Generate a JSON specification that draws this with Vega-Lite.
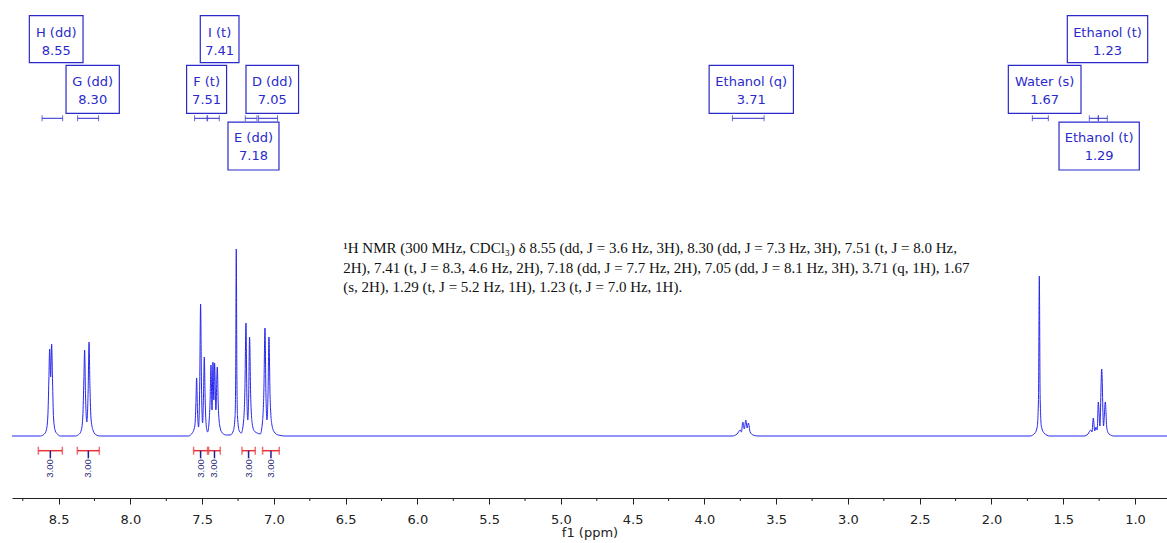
{
  "$schema": "https://vega.github.io/schema/vega-lite/v6.json",
  "width": 1155,
  "height": 498,
  "autosize": {"type": "none"},
  "padding": {"left": 12, "top": 0, "right": 0, "bottom": 45},
  "background": "white",
  "config": {"view": {"stroke": null}},
  "datasets": {
    "spectrum": [
      {"ppm": 8.825, "int": 0}, {"ppm": 8.6275, "int": 0}, {"ppm": 8.5996, "int": 2}, {"ppm": 8.5857, "int": 6},
      {"ppm": 8.5752, "int": 20}, {"ppm": 8.5683, "int": 55}, {"ppm": 8.5627, "int": 87}, {"ppm": 8.5557, "int": 59},
      {"ppm": 8.5488, "int": 92}, {"ppm": 8.5425, "int": 55}, {"ppm": 8.5355, "int": 18}, {"ppm": 8.523, "int": 5},
      {"ppm": 8.5091, "int": 2}, {"ppm": 8.4882, "int": 0},
      {"ppm": 8.3837, "int": 0}, {"ppm": 8.3558, "int": 2}, {"ppm": 8.3419, "int": 6}, {"ppm": 8.3314, "int": 20},
      {"ppm": 8.3245, "int": 55}, {"ppm": 8.3189, "int": 86}, {"ppm": 8.3126, "int": 40}, {"ppm": 8.3036, "int": 14},
      {"ppm": 8.2945, "int": 45}, {"ppm": 8.2882, "int": 94}, {"ppm": 8.282, "int": 50}, {"ppm": 8.2736, "int": 16},
      {"ppm": 8.2583, "int": 5}, {"ppm": 8.2374, "int": 1}, {"ppm": 8.2095, "int": 0},
      {"ppm": 7.5966, "int": 0}, {"ppm": 7.5687, "int": 3}, {"ppm": 7.5513, "int": 10}, {"ppm": 7.5436, "int": 32},
      {"ppm": 7.5387, "int": 58}, {"ppm": 7.5325, "int": 25}, {"ppm": 7.5248, "int": 9}, {"ppm": 7.5171, "int": 50},
      {"ppm": 7.5109, "int": 132}, {"ppm": 7.5046, "int": 50}, {"ppm": 7.4969, "int": 13}, {"ppm": 7.4907, "int": 40},
      {"ppm": 7.4851, "int": 79}, {"ppm": 7.4788, "int": 35}, {"ppm": 7.4712, "int": 10}, {"ppm": 7.4621, "int": 4},
      {"ppm": 7.4531, "int": 12}, {"ppm": 7.4447, "int": 35}, {"ppm": 7.4384, "int": 71}, {"ppm": 7.4315, "int": 26},
      {"ppm": 7.4245, "int": 74}, {"ppm": 7.4189, "int": 36}, {"ppm": 7.4134, "int": 73}, {"ppm": 7.4043, "int": 26},
      {"ppm": 7.3946, "int": 69}, {"ppm": 7.3876, "int": 30}, {"ppm": 7.3771, "int": 10}, {"ppm": 7.3597, "int": 3},
      {"ppm": 7.3319, "int": 1}, {"ppm": 7.304, "int": 1}, {"ppm": 7.2831, "int": 5}, {"ppm": 7.2706, "int": 20},
      {"ppm": 7.2664, "int": 60}, {"ppm": 7.2622, "int": 187}, {"ppm": 7.258, "int": 60}, {"ppm": 7.2538, "int": 20},
      {"ppm": 7.2413, "int": 5}, {"ppm": 7.2274, "int": 3}, {"ppm": 7.2135, "int": 12}, {"ppm": 7.2023, "int": 45},
      {"ppm": 7.1947, "int": 113}, {"ppm": 7.1884, "int": 40}, {"ppm": 7.1821, "int": 16}, {"ppm": 7.1758, "int": 40},
      {"ppm": 7.1696, "int": 99}, {"ppm": 7.1619, "int": 40}, {"ppm": 7.1508, "int": 12}, {"ppm": 7.1368, "int": 5},
      {"ppm": 7.1159, "int": 3}, {"ppm": 7.095, "int": 2}, {"ppm": 7.0811, "int": 12}, {"ppm": 7.07, "int": 45},
      {"ppm": 7.0623, "int": 108}, {"ppm": 7.0553, "int": 40}, {"ppm": 7.0484, "int": 16}, {"ppm": 7.0414, "int": 40},
      {"ppm": 7.0344, "int": 99}, {"ppm": 7.0268, "int": 40}, {"ppm": 7.0149, "int": 12}, {"ppm": 6.9975, "int": 4},
      {"ppm": 6.9697, "int": 1}, {"ppm": 6.9209, "int": 0},
      {"ppm": 3.8072, "int": 0}, {"ppm": 3.7724, "int": 2}, {"ppm": 3.7515, "int": 6}, {"ppm": 3.7424, "int": 4},
      {"ppm": 3.7327, "int": 14}, {"ppm": 3.7222, "int": 7}, {"ppm": 3.7118, "int": 16}, {"ppm": 3.7027, "int": 8},
      {"ppm": 3.6937, "int": 13}, {"ppm": 3.6818, "int": 4}, {"ppm": 3.6609, "int": 1}, {"ppm": 3.6261, "int": 0},
      {"ppm": 1.7314, "int": 0}, {"ppm": 1.6966, "int": 3}, {"ppm": 1.6806, "int": 10}, {"ppm": 1.6722, "int": 40},
      {"ppm": 1.6666, "int": 160}, {"ppm": 1.6611, "int": 40}, {"ppm": 1.6527, "int": 10}, {"ppm": 1.6339, "int": 3},
      {"ppm": 1.5921, "int": 0},
      {"ppm": 1.3553, "int": 0}, {"ppm": 1.3274, "int": 2}, {"ppm": 1.3086, "int": 6}, {"ppm": 1.2996, "int": 4},
      {"ppm": 1.2905, "int": 18}, {"ppm": 1.2808, "int": 5}, {"ppm": 1.2717, "int": 9}, {"ppm": 1.2633, "int": 6},
      {"ppm": 1.2557, "int": 34}, {"ppm": 1.2445, "int": 10}, {"ppm": 1.232, "int": 67}, {"ppm": 1.2195, "int": 10},
      {"ppm": 1.2069, "int": 34}, {"ppm": 1.1965, "int": 8}, {"ppm": 1.1811, "int": 2}, {"ppm": 1.1463, "int": 0},
      {"ppm": 0.777, "int": 0}
    ],
    "minorTicks": [
      {"ppm": 8.75}, {"ppm": 8.25}, {"ppm": 7.75}, {"ppm": 7.25}, {"ppm": 6.75}, {"ppm": 6.25}, {"ppm": 5.75},
      {"ppm": 5.25}, {"ppm": 4.75}, {"ppm": 4.25}, {"ppm": 3.75}, {"ppm": 3.25}, {"ppm": 2.75}, {"ppm": 2.25},
      {"ppm": 1.75}, {"ppm": 1.25}
    ],
    "boxes": [
      {"label": ["H (dd)", "8.55"], "lo": 8.7041, "hi": 8.33, "mid": 8.517, "top": 420.3, "bot": 373.3, "ymid": 403.1},
      {"label": ["I (t)", "7.41"], "lo": 7.513, "hi": 7.2434, "mid": 7.3782, "top": 420.3, "bot": 373.3, "ymid": 403.1},
      {"label": ["Ethanol (t)", "1.23"], "lo": 1.4716, "hi": 0.9116, "mid": 1.1916, "top": 420.3, "bot": 373.3, "ymid": 403.1},
      {"label": ["G (dd)", "8.30"], "lo": 8.4485, "hi": 8.0772, "mid": 8.2628, "top": 370.7, "bot": 322.7, "ymid": 353.8},
      {"label": ["F (t)", "7.51"], "lo": 7.6084, "hi": 7.3298, "mid": 7.4691, "top": 370.7, "bot": 322.7, "ymid": 353.8},
      {"label": ["D (dd)", "7.05"], "lo": 7.1946, "hi": 6.8282, "mid": 7.0114, "top": 370.7, "bot": 322.7, "ymid": 353.8},
      {"label": ["Ethanol (q)", "3.71"], "lo": 3.9674, "hi": 3.3802, "mid": 3.6738, "top": 370.7, "bot": 322.7, "ymid": 353.8},
      {"label": ["Water (s)", "1.67"], "lo": 1.8826, "hi": 1.3762, "mid": 1.6294, "top": 370.7, "bot": 322.7, "ymid": 353.8},
      {"label": ["E (dd)", "7.18"], "lo": 7.32, "hi": 6.9648, "mid": 7.1424, "top": 313.8, "bot": 266.0, "ymid": 298.1},
      {"label": ["Ethanol (t)", "1.29"], "lo": 1.5294, "hi": 0.9701, "mid": 1.2498, "top": 313.8, "bot": 266.0, "ymid": 298.1}
    ],
    "brackets": [
      {"lo": 8.6156, "hi": 8.4721}, {"lo": 8.3677, "hi": 8.2214}, {"lo": 7.5527, "hi": 7.4663},
      {"lo": 7.4621, "hi": 7.3806}, {"lo": 7.1995, "hi": 7.118}, {"lo": 7.1069, "hi": 6.9745},
      {"lo": 3.8051, "hi": 3.5843}, {"lo": 1.7154, "hi": 1.604}, {"lo": 1.3184, "hi": 1.2557},
      {"lo": 1.2557, "hi": 1.193}
    ],
    "integrals": [
      {"lo": 8.6414, "hi": 8.4742, "mid": 8.5578, "value": "3.00"},
      {"lo": 8.3697, "hi": 8.2165, "mid": 8.2931, "value": "3.00"},
      {"lo": 7.5596, "hi": 7.4621, "mid": 7.5109, "value": "3.00"},
      {"lo": 7.4552, "hi": 7.3737, "mid": 7.4141, "value": "3.00"},
      {"lo": 7.2225, "hi": 7.1299, "mid": 7.1766, "value": "3.00"},
      {"lo": 7.079, "hi": 6.9627, "mid": 7.0205, "value": "3.00"}
    ],
    "note": [
      {"x": 6.517, "y": 188, "text": [
        "¹H NMR (300 MHz, CDCl₃) δ 8.55 (dd, J = 3.6 Hz, 3H), 8.30 (dd, J = 7.3 Hz, 3H), 7.51 (t, J = 8.0 Hz,",
        "2H), 7.41 (t, J = 8.3, 4.6 Hz, 2H), 7.18 (dd, J = 7.7 Hz, 2H), 7.05 (dd, J = 8.1 Hz, 3H), 3.71 (q, 1H), 1.67",
        "(s, 2H), 1.29 (t, J = 5.2 Hz, 1H), 1.23 (t, J = 7.0 Hz, 1H)."
      ]}
    ]
  },
  "layer": [
    {
      "data": {"name": "spectrum"},
      "mark": {"type": "line", "color": "#2626ee", "strokeWidth": 1, "interpolate": "monotone"},
      "encoding": {
        "x": {
          "field": "ppm", "type": "quantitative",
          "scale": {"domain": [0.777, 8.825], "reverse": true, "nice": false, "zero": false},
          "axis": {
            "title": "f1 (ppm)",
            "values": [8.5, 8.0, 7.5, 7.0, 6.5, 6.0, 5.5, 5.0, 4.5, 4.0, 3.5, 3.0, 2.5, 2.0, 1.5, 1.0],
            "format": ".1f",
            "tickSize": 6,
            "grid": false,
            "domainColor": "#222222",
            "tickColor": "#222222",
            "labelColor": "#222222",
            "labelFont": "DejaVu Sans",
            "labelFontSize": 13,
            "labelPadding": 9,
            "labelOverlap": false,
            "labelBound": false,
            "titleFont": "DejaVu Sans",
            "titleFontSize": 13,
            "titleFontWeight": "normal",
            "titleColor": "#222222",
            "titlePadding": 0
          }
        },
        "y": {
          "field": "int", "type": "quantitative",
          "scale": {"domain": [-62, 436], "nice": false, "zero": false},
          "axis": null
        }
      }
    },
    {
      "data": {"name": "minorTicks"},
      "mark": {"type": "rule", "color": "#222222", "strokeWidth": 1},
      "encoding": {
        "x": {"field": "ppm", "type": "quantitative"},
        "y": {"datum": -62, "type": "quantitative"},
        "y2": {"datum": -65}
      }
    },
    {
      "data": {"name": "boxes"},
      "mark": {"type": "rect", "fill": "white", "stroke": "#2a2acb", "strokeWidth": 1.2},
      "encoding": {
        "x": {"field": "lo", "type": "quantitative"},
        "x2": {"field": "hi"},
        "y": {"field": "top", "type": "quantitative"},
        "y2": {"field": "bot"}
      }
    },
    {
      "data": {"name": "boxes"},
      "mark": {"type": "text", "color": "#2a2acb", "font": "DejaVu Sans", "fontSize": 13, "align": "center", "baseline": "middle", "lineHeight": 18},
      "encoding": {
        "x": {"field": "mid", "type": "quantitative"},
        "y": {"field": "ymid", "type": "quantitative"},
        "text": {"field": "label"}
      }
    },
    {
      "data": {"name": "brackets"},
      "mark": {"type": "rule", "color": "#2a2acb", "strokeWidth": 1},
      "encoding": {
        "x": {"field": "lo", "type": "quantitative"},
        "x2": {"field": "hi"},
        "y": {"datum": 317.7, "type": "quantitative"}
      }
    },
    {
      "data": {"name": "brackets"},
      "mark": {"type": "tick", "color": "#2a2acb", "orient": "vertical", "size": 6, "thickness": 1},
      "encoding": {
        "x": {"field": "lo", "type": "quantitative"},
        "y": {"datum": 317.7, "type": "quantitative"}
      }
    },
    {
      "data": {"name": "brackets"},
      "mark": {"type": "tick", "color": "#2a2acb", "orient": "vertical", "size": 6, "thickness": 1},
      "encoding": {
        "x": {"field": "hi", "type": "quantitative"},
        "y": {"datum": 317.7, "type": "quantitative"}
      }
    },
    {
      "data": {"name": "integrals"},
      "mark": {"type": "rule", "color": "#e8333a", "strokeWidth": 1.5},
      "encoding": {
        "x": {"field": "lo", "type": "quantitative"},
        "x2": {"field": "hi"},
        "y": {"datum": -14.7, "type": "quantitative"}
      }
    },
    {
      "data": {"name": "integrals"},
      "mark": {"type": "tick", "color": "#e8333a", "orient": "vertical", "size": 8, "thickness": 1.5},
      "encoding": {
        "x": {"field": "lo", "type": "quantitative"},
        "y": {"datum": -14.7, "type": "quantitative"}
      }
    },
    {
      "data": {"name": "integrals"},
      "mark": {"type": "tick", "color": "#e8333a", "orient": "vertical", "size": 8, "thickness": 1.5},
      "encoding": {
        "x": {"field": "hi", "type": "quantitative"},
        "y": {"datum": -14.7, "type": "quantitative"}
      }
    },
    {
      "data": {"name": "integrals"},
      "mark": {"type": "rule", "color": "#1f1f9a", "strokeWidth": 1.5},
      "encoding": {
        "x": {"field": "mid", "type": "quantitative"},
        "y": {"datum": -14.7, "type": "quantitative"},
        "y2": {"datum": -22.3}
      }
    },
    {
      "data": {"name": "integrals"},
      "mark": {"type": "text", "color": "#1f1f7a", "font": "Liberation Sans", "fontSize": 9.5, "angle": 270, "align": "center", "baseline": "middle"},
      "encoding": {
        "x": {"field": "mid", "type": "quantitative"},
        "y": {"datum": -32.5, "type": "quantitative"},
        "text": {"field": "value"}
      }
    },
    {
      "data": {"name": "note"},
      "mark": {"type": "text", "color": "#111111", "font": "Liberation Serif", "fontSize": 15, "align": "left", "baseline": "middle", "lineHeight": 19.5},
      "encoding": {
        "x": {"field": "x", "type": "quantitative"},
        "y": {"field": "y", "type": "quantitative"},
        "text": {"field": "text"}
      }
    }
  ]
}
